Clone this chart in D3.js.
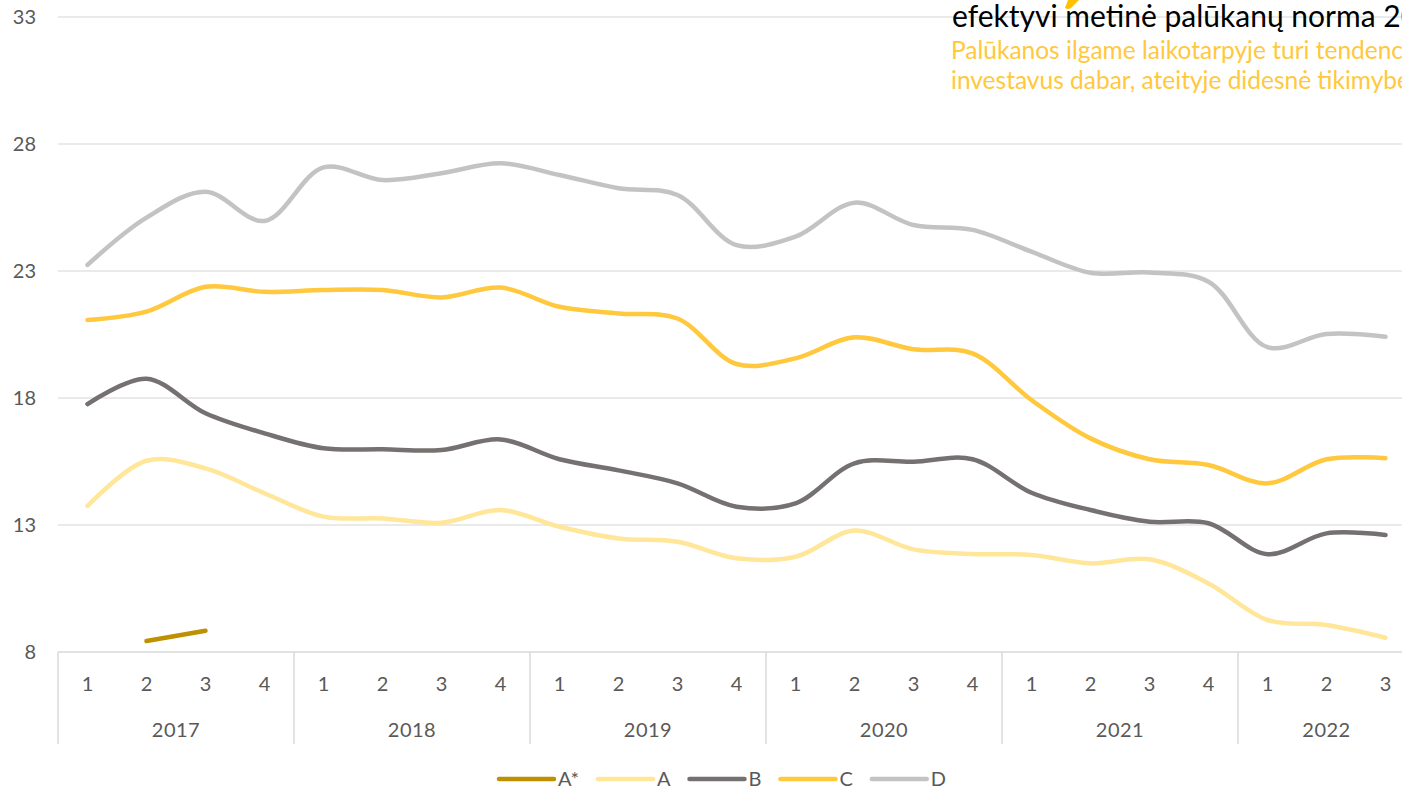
<!DOCTYPE html>
<html>
<head>
<meta charset="utf-8">
<script src="https://cdn.jsdelivr.net/npm/d3@7"></script>
<style>
  body { margin: 0; overflow: hidden; background: #fff; }
  svg text { font-family: Lato, "Noto Sans", sans-serif; }
</style>
</head>
<body>
<div id="chart"></div>
<script>
// ketvirčiai 2017 Q1 .. 2022 Q3
var years = ["2017", "2018", "2019", "2020", "2021", "2022"];
var quarterLabels = ["1","2","3","4", "1","2","3","4", "1","2","3","4",
                     "1","2","3","4", "1","2","3","4", "1","2","3"];
var periods = quarterLabels.map(function (q, i) { return years[Math.floor(i / 4)] + "-" + q; });

var yTicks = [8, 13, 18, 23, 28, 33];

var seriesNames = ["A*", "A", "B", "C", "D"];
var seriesColors = ["#bf9000", "#ffe699", "#767171", "#ffc83d", "#c3c3c3"];

var valuesAstar = [null, 8.43, 8.84, null, null, null, null, null, null, null, null, null,
                   null, null, null, null, null, null, null, null, null, null, null];
var valuesA = [13.75, 15.53, 15.23, 14.25, 13.33, 13.26, 13.09, 13.59, 12.93, 12.47, 12.34, 11.69,
               11.75, 12.78, 12.04, 11.86, 11.82, 11.49, 11.65, 10.70, 9.26, 9.06, 8.56];
var valuesB = [17.76, 18.76, 17.40, 16.61, 16.02, 15.98, 15.95, 16.37, 15.59, 15.15, 14.64, 13.72,
               13.85, 15.43, 15.49, 15.59, 14.27, 13.59, 13.13, 13.07, 11.85, 12.67, 12.61];
var valuesC = [21.07, 21.40, 22.38, 22.18, 22.25, 22.25, 21.96, 22.35, 21.59, 21.33, 21.13, 19.34,
               19.56, 20.39, 19.92, 19.76, 17.92, 16.41, 15.59, 15.36, 14.64, 15.59, 15.63];
var valuesD = [23.24, 25.10, 26.12, 24.97, 27.08, 26.58, 26.85, 27.24, 26.78, 26.26, 25.99, 24.02,
               24.35, 25.69, 24.81, 24.62, 23.76, 22.93, 22.94, 22.58, 20.00, 20.52, 20.41];

var seriesValues = [valuesAstar, valuesA, valuesB, valuesC, valuesD];

var width = 1402, height = 789;
var plotLeft = 58, plotRight = 1415, plotTop = 17, plotBottom = 652;

var svg = d3.select("#chart").append("svg")
    .attr("width", width)
    .attr("height", height);

var x = d3.scalePoint().domain(periods).range([plotLeft, plotRight]).padding(0.5);
var step = x.step();
var y = d3.scaleLinear().domain([8, 33]).range([plotBottom, plotTop]);

// tinklelis
svg.append("g").selectAll("line")
    .data(yTicks.slice(1))
    .enter().append("line")
    .attr("x1", plotLeft).attr("x2", plotRight)
    .attr("y1", function (d) { return y(d); })
    .attr("y2", function (d) { return y(d); })
    .attr("stroke", "#e3e3e3")
    .attr("stroke-width", 1.5);

// y ašies žymės
svg.append("g").selectAll("text")
    .data(yTicks)
    .enter().append("text")
    .attr("x", 36)
    .attr("y", function (d) { return y(d); })
    .attr("dy", "0.36em")
    .attr("text-anchor", "end")
    .attr("fill", "#595959")
    .style("font-size", "20px")
    .text(function (d) { return d; });

// x ašis
svg.append("line")
    .attr("x1", plotLeft).attr("x2", plotRight)
    .attr("y1", plotBottom).attr("y2", plotBottom)
    .attr("stroke", "#d9d9d9")
    .attr("stroke-width", 1.5);

var yearEdges = d3.range(years.length + 1).map(function (i) {
    return Math.min(plotLeft + i * 4 * step, plotRight);
});
svg.append("g").selectAll("line")
    .data(yearEdges)
    .enter().append("line")
    .attr("x1", function (d) { return d; })
    .attr("x2", function (d) { return d; })
    .attr("y1", plotBottom).attr("y2", 744)
    .attr("stroke", "#d9d9d9")
    .attr("stroke-width", 1.5);

svg.append("g").selectAll("text")
    .data(periods)
    .enter().append("text")
    .attr("x", function (d) { return x(d); })
    .attr("y", 684)
    .attr("dy", "0.36em")
    .attr("text-anchor", "middle")
    .attr("fill", "#595959")
    .style("font-size", "20px")
    .text(function (d, i) { return quarterLabels[i]; });

svg.append("g").selectAll("text")
    .data(years)
    .enter().append("text")
    .attr("x", function (d, i) { return (yearEdges[i] + yearEdges[i + 1]) / 2; })
    .attr("y", 730)
    .attr("dy", "0.36em")
    .attr("text-anchor", "middle")
    .attr("fill", "#595959")
    .style("font-size", "20px")
    .style("letter-spacing", "0.5px")
    .text(function (d) { return d; });

// linijos
var line = d3.line()
    .defined(function (d) { return d != null; })
    .x(function (d, i) { return x(periods[i]); })
    .y(function (d) { return y(d); })
    .curve(d3.curveCatmullRom);

// piešiam D, C, B, A, A* tvarka (A* viršuje)
[4, 3, 2, 1, 0].forEach(function (k) {
    svg.append("path")
        .datum(seriesValues[k])
        .attr("d", line)
        .attr("fill", "none")
        .attr("stroke", seriesColors[k])
        .attr("stroke-width", 4.5)
        .attr("stroke-linecap", "round")
        .attr("stroke-linejoin", "round");
});

// legenda
var legend = svg.append("g");
var lx = 499;
seriesNames.forEach(function (name, k) {
    legend.append("line")
        .attr("x1", lx).attr("x2", lx + 55)
        .attr("y1", 779).attr("y2", 779)
        .attr("stroke", seriesColors[k])
        .attr("stroke-width", 4.5)
        .attr("stroke-linecap", "round");
    var t = legend.append("text")
        .attr("x", lx + 59)
        .attr("y", 779)
        .attr("dy", "0.36em")
        .attr("fill", "#595959")
        .style("font-size", "20px")
        .text(name);
    lx += 59 + t.node().getComputedTextLength() + 19;
});

// antraštė viršuje dešinėje (nukirpta)
svg.append("path")
    .attr("d", "M1068,0 L1079,0 L1071,8 Q1068,10 1065,8 Z")
    .attr("fill", "#ffc000");

svg.append("text")
    .attr("x", 952).attr("y", 27)
    .attr("fill", "#000")
    .style("font-size", "30px")
    .text("efektyvi metinė palūkanų norma 2017–2022");

svg.append("text")
    .attr("x", 951).attr("y", 59)
    .attr("fill", "#ffc83d")
    .style("font-size", "24.5px")
    .text("Palūkanos ilgame laikotarpyje turi tendenciją");

svg.append("text")
    .attr("x", 951).attr("y", 89)
    .attr("fill", "#ffc83d")
    .style("font-size", "24.5px")
    .text("investavus dabar, ateityje didesnė tikimybė");
</script>
</body>
</html>
